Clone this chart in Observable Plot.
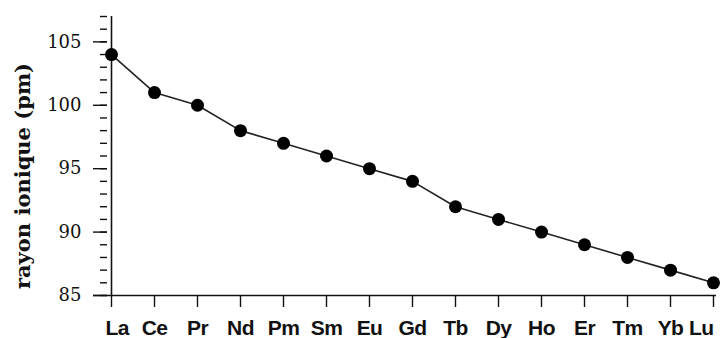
<!DOCTYPE html>
<html>
<head>
<meta charset="utf-8">
<script src="https://cdn.jsdelivr.net/npm/d3@7"></script>
<script src="https://cdn.jsdelivr.net/npm/@observablehq/plot@0.6"></script>
<style>
  html, body { margin: 0; padding: 0; background: #fff; }
  svg { display: block; }
  .xlab text { letter-spacing: -0.6px; }
</style>
</head>
<body>
<div id="chart"></div>
<script>
const elements = ["La","Ce","Pr","Nd","Pm","Sm","Eu","Gd","Tb","Dy","Ho","Er","Tm","Yb","Lu"];
const radius = [104,101,100,98,97,96,95,94,92,91,90,89,88,87,86];
const yMajorTicks = [85,90,95,100,105];
const yMinorTicks = d3.range(85, 108, 1);
const yLabel = "rayon ionique (pm)";

const data = elements.map((e, i) => ({el: e, r: radius[i]}));
const first = elements.slice(0, 1);
const middle = elements.slice(1, -1);
const last = elements.slice(-1);

const xLabelStyle = {y: 85, fontSize: 21, fontWeight: "bold", fontFamily: "Liberation Sans", fill: "#111",
  lineAnchor: "bottom", dy: 39, className: "xlab"};

const chart = Plot.plot({
  width: 720,
  height: 338,
  marginLeft: 107,
  marginRight: 4,
  marginTop: 16,
  marginBottom: 43,
  x: {type: "point", domain: elements, padding: 0},
  y: {domain: [85, 107], label: null},
  style: {background: "#fff", color: "#111"},
  marks: [
    Plot.ruleX([elements[0]], {y1: 85, y2: 107, stroke: "#111", strokeWidth: 1.6}),
    Plot.ruleY([85], {stroke: "#111", strokeWidth: 1.6, insetLeft: -14, insetRight: 0}),
    Plot.axisY({ticks: yMinorTicks, tickSize: 7, text: null, stroke: "#111", strokeWidth: 1.4, label: null}),
    Plot.axisY({ticks: yMajorTicks, tickSize: 14, tickPadding: 12, stroke: "#111", strokeWidth: 1.4,
      fontSize: 18, fontFamily: "DejaVu Serif", fill: "#111", label: null}),
    Plot.axisX({tickSize: 12, text: null, stroke: "#111", strokeWidth: 1.4, label: null}),
    Plot.text(first, {x: d => d, ...xLabelStyle, textAnchor: "start", dx: -6}),
    Plot.text(middle, {x: d => d, ...xLabelStyle}),
    Plot.text(last, {x: d => d, ...xLabelStyle, textAnchor: "end", dx: 0}),
    Plot.line(data, {x: "el", y: "r", stroke: "#222", strokeWidth: 1.6}),
    Plot.dot(data, {x: "el", y: "r", r: 6.5, fill: "#000", stroke: "none"}),
    Plot.text([yLabel], {frameAnchor: "left", textAnchor: "middle", dx: -84, dy: 20, rotate: -90,
      fontSize: 21, fontWeight: "bold", fontFamily: "DejaVu Serif", fill: "#111"})
  ]
});
document.getElementById("chart").appendChild(chart);
</script>
</body>
</html>
